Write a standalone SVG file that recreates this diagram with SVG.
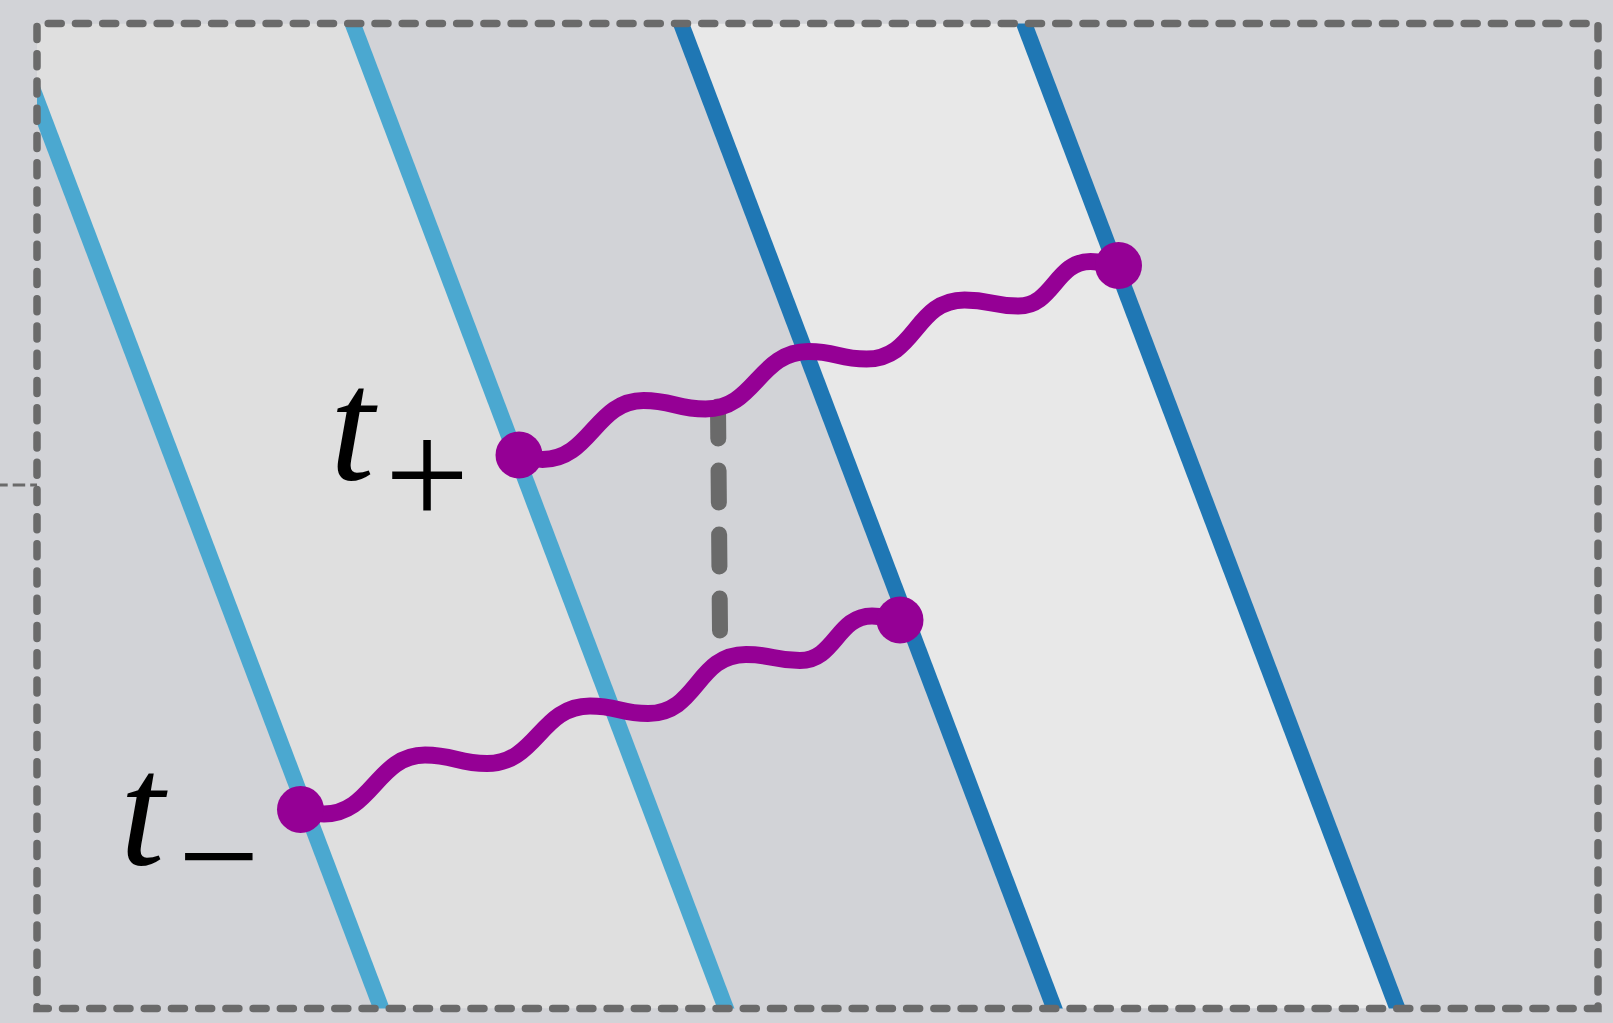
<svg xmlns="http://www.w3.org/2000/svg" width="1613" height="1023" viewBox="0 0 1613 1023">
<defs>
<style>
.bg{fill:#d2d3d7}
.band1{fill:#dfdfdf}
.band2{fill:#e8e8e8}
.wl{fill:none;stroke-width:16}
.wl-light{stroke:#4ba8d0}
.wl-dark{stroke:#1f77b4}
.border{fill:none;stroke:#6a6a6a;stroke-width:7.5;stroke-linecap:round;stroke-dasharray:13 14.23;stroke-dashoffset:-3}
.tick{fill:none;stroke:#6a6a6a;stroke-width:3;stroke-dasharray:12.5 5;stroke-dashoffset:4.8}
.wave{fill:none;stroke:#950095;stroke-width:17;stroke-linejoin:round}
.link{fill:none;stroke:#6a6a6a;stroke-width:16;stroke-linecap:round;stroke-dasharray:32 32}
.dot{fill:#950095}
.math{font-family:"Liberation Serif","Times New Roman",serif;fill:#000}
</style>
<clipPath id="frame"><rect x="37" y="23.5" width="1561" height="985"/></clipPath>
</defs>

<g id="background">
<rect class="bg" x="0" y="0" width="1613" height="1023"/>
<g clip-path="url(#frame)">
<polygon class="band1" points="7.7,23.5 352.6,23.5 725.9,1008.5 381.4,1008.5"/>
<polygon class="band2" points="681,23.5 1024.1,23.5 1397.4,1008.5 1054.3,1008.5"/>
</g>
</g>

<g id="worldlines" clip-path="url(#frame)">
<path id="worldline-1" class="wl wl-light" d="M2.6,10 L386.5,1022"/>
<path id="worldline-2" class="wl wl-light" d="M347.5,10 L731,1022"/>
<path id="worldline-3" class="wl wl-dark" d="M675.9,10 L1059.4,1022"/>
<path id="worldline-4" class="wl wl-dark" d="M1019,10 L1402.5,1022"/>
</g>

<g id="frame-border">
<path class="border" d="M37,23.5 V1008.5 H1598 V23.5 Z"/>
<path class="tick" d="M0,485 H37"/>
</g>

<g id="connectors">
<path id="link" class="link" d="M718,406.5 L720,631"/>
<path id="wave-lower" class="wave" d="M300.5,809.5 C312,809.5 312,814 324,814 C372,814 377,755 425,755 C454,755 458,763.5 487,763.5 C537,763.5 540,706 590,706 C618,706 620,713.5 648,713.5 C698,713.5 696,654.5 746,654.5 C773,654.5 773,660.5 800,660.5 C835,660.5 837,616 872,616 C886,616 886,620 900,620"/>
<path id="wave-upper" class="wave" transform="translate(218.5,-354.5)" d="M300.5,809.5 C312,809.5 312,814 324,814 C372,814 377,755 425,755 C454,755 458,763.5 487,763.5 C537,763.5 540,706 590,706 C618,706 620,713.5 648,713.5 C698,713.5 696,654.5 746,654.5 C773,654.5 773,660.5 800,660.5 C835,660.5 837,616 872,616 C886,616 886,620 900,620"/>
</g>

<g id="node-lower-start"><circle class="dot" cx="300.5" cy="809.5" r="23.5"/></g>
<g id="node-lower-end"><circle class="dot" cx="900" cy="620" r="23.5"/></g>
<g id="node-upper-start"><circle class="dot" cx="519" cy="455" r="23.5"/></g>
<g id="node-upper-end"><circle class="dot" cx="1118.5" cy="265.5" r="23.5"/></g>

<g id="label-t-plus">
<text class="math" x="330" y="479" font-size="160" font-style="italic">t</text>
<text class="math" x="427" y="525" font-size="150" text-anchor="middle">+</text>
</g>
<g id="label-t-minus">
<text class="math" x="120" y="864" font-size="160" font-style="italic">t</text>
<text class="math" x="219" y="905" font-size="145" text-anchor="middle">−</text>
</g>
</svg>
